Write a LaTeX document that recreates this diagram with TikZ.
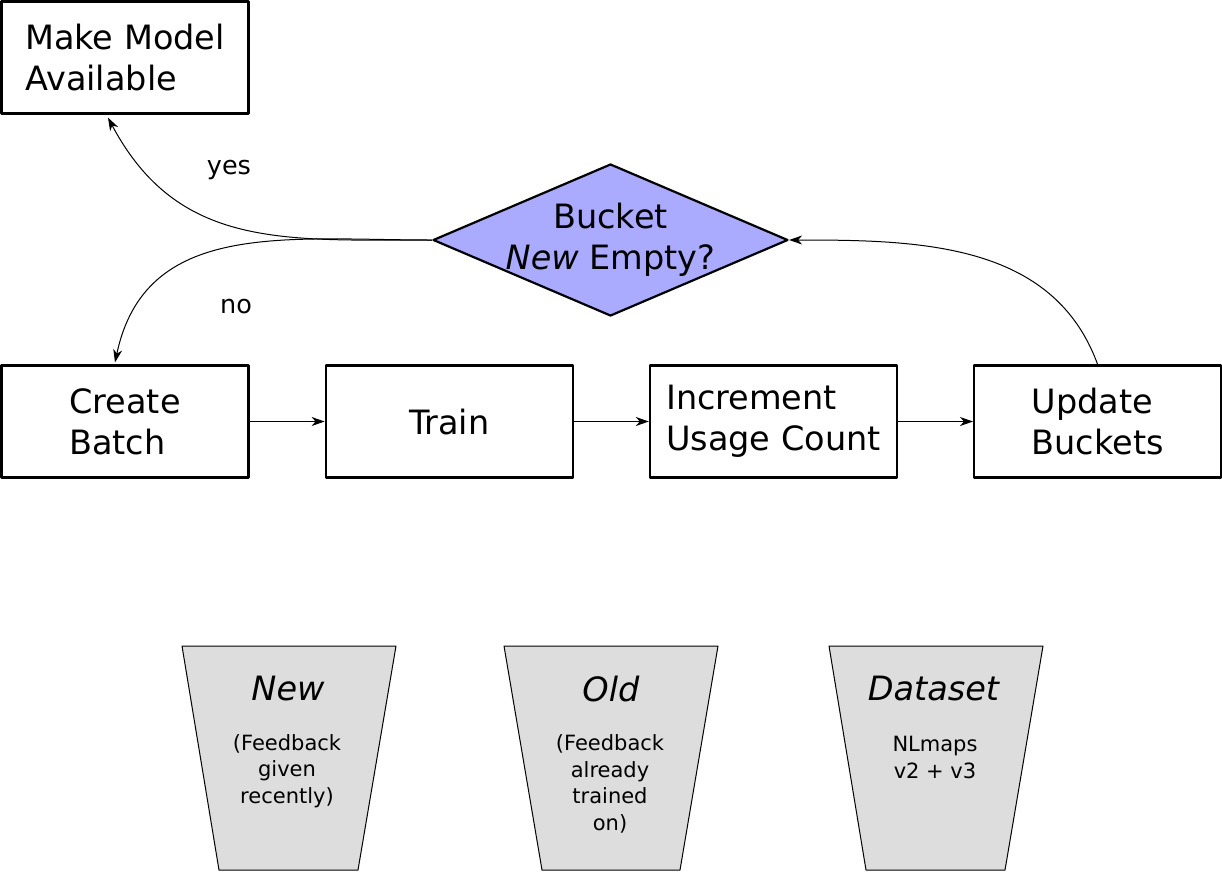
\documentclass[tikz,border=0pt]{standalone}
\usepackage{fontspec}
\setmainfont{DejaVu Sans}
\usetikzlibrary{arrows.meta,positioning,shapes.geometric}

\definecolor{decidefill}{RGB}{170,170,255}
\definecolor{bucketfill}{RGB}{221,221,221}

\tikzset{
  stepbox/.style={draw,line width=2.2pt,minimum width=247pt,minimum height=112pt,
    align=left,font=\fontsize{33.5}{41}\selectfont},
  decide/.style={draw,diamond,line width=2.2pt,fill=decidefill,
    minimum width=355pt,minimum height=152pt,inner sep=0pt},
  bigtext/.style={align=center,font=\fontsize{33.5}{41}\selectfont},
  smalltext/.style={align=center,font=\fontsize{21}{26.5}\selectfont},
  lbl/.style={font=\fontsize{25.5}{30}\selectfont},
  bucket/.style={draw=black,line width=1pt,fill=bucketfill},
  conn/.style={-{Stealth[length=13pt,width=9pt,inset=4pt]},line width=1pt}
}

\begin{document}
\begin{tikzpicture}[x=1pt,y=-1pt,line cap=round,line join=round]
\useasboundingbox (0,0) rectangle (1222,871);

% flow
\node[stepbox] (make) at (125,57.5) {Make Model\\Available};
\node[decide] (decide) at (610.5,240) {};
\node[bigtext] (decidetext) at (decide) {Bucket\\\textit{New} Empty?};
\node[stepbox] (batch) at (125,421.5) {Create\\Batch};
\node[stepbox,right=75pt of batch] (train) {Train};
\node[stepbox,right=75pt of train] (count) {Increment\\Usage Count};
\node[stepbox,right=75pt of count] (update) {Update\\Buckets};

\draw[conn] (batch) -- (train);
\draw[conn] (train) -- (count);
\draw[conn] (count) -- (update);
\draw[conn] (update.north) to[out=110,in=0] (decide.east);
\draw[conn] (decide.west) to[out=180,in=-62,looseness=1.1] ([xshift=-17pt,yshift=-3pt]make.south);
\draw[conn] (decide.west) to[out=180,in=78,looseness=1.1] ([xshift=-10pt,yshift=2pt]batch.north);
\node[lbl] (lblyes) at (229,170) {yes};
\node[lbl] (lblno) at (236,307) {no};

% buckets
\filldraw[bucket] (182,646) -- (396,646) -- (358,870) -- (219,870) -- cycle;
\node[bigtext] (newtitle) at (288,689) {\textit{New}};
\node[smalltext] (newnote) at (287,771) {(Feedback\\given\\recently)};

\filldraw[bucket] (504,646) -- (718,646) -- (680,870) -- (542,870) -- cycle;
\node[bigtext] (oldtitle) at (611,689) {\textit{Old}};
\node[smalltext] (oldnote) at (610,784) {(Feedback\\already\\trained\\on)};

\filldraw[bucket] (829,646) -- (1043,646) -- (1005,870) -- (866,870) -- cycle;
\node[bigtext] (datatitle) at (934,689) {\textit{Dataset}};
\node[smalltext] (datanote) at (935,757.5) {NLmaps\\v2 + v3};
\end{tikzpicture}
\end{document}
